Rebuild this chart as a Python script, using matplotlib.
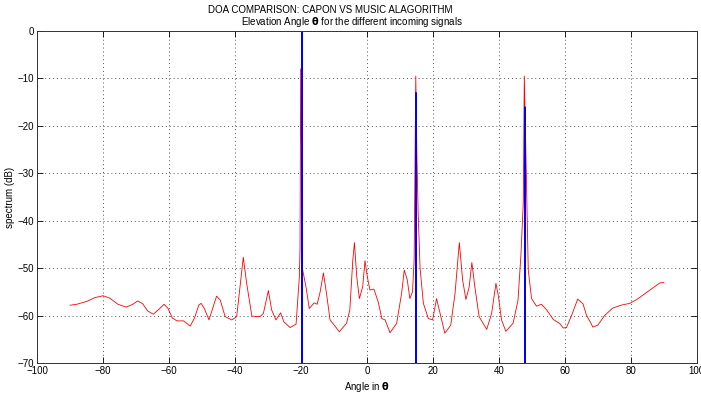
import numpy as np
import matplotlib
matplotlib.use('Agg')
import matplotlib.pyplot as plt

plt.rcParams['font.family'] = ['Liberation Sans', 'DejaVu Sans']
plt.rcParams['font.size'] = 7
plt.rcParams['mathtext.fontset'] = 'dejavusans'

# Capon spectrum (red)
capon_angle = [-90, -88, -85, -82.5, -80, -78, -75.5, -73, -71, -69.5, -68, -66.5, -64.8, -63,
               -61.5, -60.3, -59, -57.6, -55.6, -53.6, -52.3, -51, -50.3, -49.3, -47.9, -46.8,
               -45.6, -44.5, -43, -41, -39.5, -38.5, -37.5, -36.5, -34.9, -32.4, -31.4, -29.9,
               -28.9, -27.6, -26.2, -25.2, -23.3, -21.5, -20.5, -20.3, -20.1, -19.8, -19.6,
               -18.5, -17.5, -16, -15.1, -14.2, -13.2, -12.2, -11.2, -9.7, -8.4, -6.2, -5.2,
               -4.3, -3.8, -3.1, -2.3, -1.3, -0.6, 0.1, 0.9, 2.1, 3.4, 4.5, 5.5, 7, 9, 10.5,
               11.3, 12.2, 13, 13.8, 14.3, 14.8, 15.1, 15.5, 16.1, 17.1, 18.6, 19.9, 21.1,
               22.3, 23.6, 25.4, 26.7, 28, 29, 30, 31, 31.8, 32.7, 34, 36.3, 37.8, 39.1, 39.8,
               40.8, 42.1, 44.3, 45.8, 46.7, 47.4, 47.7, 48.0, 48.9, 49.9, 51.4, 52.9, 54.5,
               56.5, 58.5, 59.5, 60.5, 62, 63.9, 65.5, 66.5, 68.5, 70, 72, 74.5, 77, 79.7, 82,
               85, 88.8, 90]
capon_db = [-57.8, -57.6, -57.0, -56.2, -55.8, -56.3, -57.6, -58.2, -57.6, -56.9, -57.5, -59,
            -59.7, -58.6, -57.6, -58.5, -60.5, -61.1, -61.1, -62.2, -60.5, -57.8, -57.4, -58.5,
            -60.9, -58.5, -55.9, -56.7, -60.2, -60.9, -60.2, -53.9, -47.7, -53.1, -60.1, -60.2,
            -59.5, -54.7, -58.8, -60.9, -59.4, -61.3, -62.5, -61.8, -51.8, -45.9, -8, -30,
            -50, -53.9, -58.5, -57.3, -57.6, -55, -51, -55.7, -60.9, -62.2, -63.4, -61.6,
            -58.8, -48.3, -44.6, -51.8, -56.4, -53.9, -48.4, -51.8, -54.6, -54.4, -57.1,
            -60.6, -60.9, -63.6, -61.6, -55.3, -50.4, -52.4, -56.4, -55, -48.3, -9.5, -25,
            -38, -50, -57.4, -60.6, -60.9, -56.4, -59.9, -63.7, -62, -55.3, -44.6, -52.5,
            -56.6, -53.9, -48.8, -53.9, -60.2, -62.9, -59.5, -53.2, -55.7, -60.9, -63.3,
            -61.6, -56.7, -46.9, -36, -9.5, -20, -50.4, -56.4, -58, -57.6, -58.8, -60.8,
            -61.7, -62.6, -62.5, -60, -56.5, -57.5, -59.8, -62.4, -62, -60, -58.4, -57.8,
            -57.4, -56.5, -55, -53.1, -53.0]

# MUSIC spectrum (blue): below the axis except at the three sources
music_angle = [-90, -19.75, -19.7, -19.65, 14.8, 14.85, 14.9, 47.85, 47.9, 47.95, 90]
music_db = [-85, -85, 0, -85, -85, -13, -85, -85, -16, -85, -85]

fig = plt.figure(figsize=(7.01, 3.96), dpi=100)
ax = fig.add_axes([0.053, 0.083, 0.941, 0.839])

ax.plot(capon_angle, capon_db, color='red', linewidth=0.6)
ax.plot(music_angle, music_db, color='blue', linewidth=0.9)

ax.set_xlim(-100, 100)
ax.set_ylim(-70, 0)
ax.set_xticks(np.arange(-100, 101, 20))
ax.set_yticks(np.arange(-70, 1, 10))
ax.tick_params(direction='in', top=True, right=True, length=4, width=0.6, pad=2)
ax.grid(True, linestyle=(0, (1, 3)), color='#555555', linewidth=0.7)
for s in ax.spines.values():
    s.set_linewidth(0.7)
    s.set_color('#333333')

ax.set_xlabel(r'Angle in $\mathbf{\theta}$', labelpad=3)
ax.set_ylabel('spectrum (dB)', labelpad=2)

fig.text(0.471, 0.975, 'DOA COMPARISON: CAPON VS MUSIC ALAGORITHM', ha='center', va='center')
fig.text(0.502, 0.945, r'Elevation Angle $\mathbf{\theta}$ for the different incoming signals',
         ha='center', va='center')

fig.savefig('out.png', dpi=100)
